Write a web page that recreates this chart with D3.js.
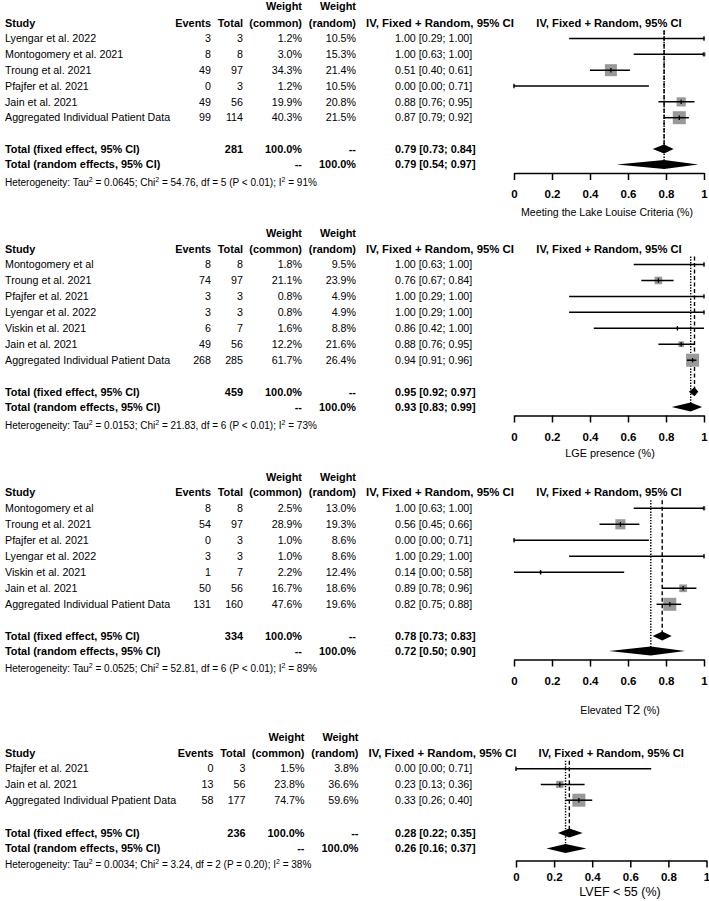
<!DOCTYPE html>
<html><head><meta charset="utf-8">
<script src="https://cdn.jsdelivr.net/npm/d3@7"></script>
<style>
body{margin:0;background:#fff}
svg{display:block}
text{font-family:"Liberation Sans",Arial,sans-serif;fill:#000}
</style>
</head><body>
<svg id="chart" width="709" height="901"></svg>
<script>
// ---------------- DATA ----------------
// Panel 1: Meeting the Lake Louise Criteria
const studiesLL = ["Lyengar et al. 2022","Montogomery et al. 2021","Troung et al. 2021","Pfajfer et al. 2021","Jain et al. 2021","Aggregated Individual Patient Data"];
const eventsLL = [3,8,49,0,49,99];
const totalLL = [3,8,97,3,56,114];
const wCommonLL = [1.2,3.0,34.3,1.2,19.9,40.3];
const wRandomLL = [10.5,15.3,21.4,10.5,20.8,21.5];
const estLL = [1.00,1.00,0.51,0.00,0.88,0.87];
const lowLL = [0.29,0.63,0.40,0.00,0.76,0.79];
const highLL = [1.00,1.00,0.61,0.71,0.95,0.92];
const fixedLL = [281,0.79,0.73,0.84];   // N, est, low, high
const randomLL = [0.79,0.54,0.97];
const hetLL = ["0.0645","54.76","5","P < 0.01","91%"];

// Panel 2: LGE presence
const studiesLGE = ["Montogomery et al","Troung et al. 2021","Pfajfer et al. 2021","Lyengar et al. 2022","Viskin et al. 2021","Jain et al. 2021","Aggregated Individual Patient Data"];
const eventsLGE = [8,74,3,3,6,49,268];
const totalLGE = [8,97,3,3,7,56,285];
const wCommonLGE = [1.8,21.1,0.8,0.8,1.6,12.2,61.7];
const wRandomLGE = [9.5,23.9,4.9,4.9,8.8,21.6,26.4];
const estLGE = [1.00,0.76,1.00,1.00,0.86,0.88,0.94];
const lowLGE = [0.63,0.67,0.29,0.29,0.42,0.76,0.91];
const highLGE = [1.00,0.84,1.00,1.00,1.00,0.95,0.96];
const fixedLGE = [459,0.95,0.92,0.97];
const randomLGE = [0.93,0.83,0.99];
const hetLGE = ["0.0153","21.83","6","P < 0.01","73%"];

// Panel 3: Elevated T2
const studiesT2 = ["Montogomery et al","Troung et al. 2021","Pfajfer et al. 2021","Lyengar et al. 2022","Viskin et al. 2021","Jain et al. 2021","Aggregated Individual Patient Data"];
const eventsT2 = [8,54,0,3,1,50,131];
const totalT2 = [8,97,3,3,7,56,160];
const wCommonT2 = [2.5,28.9,1.0,1.0,2.2,16.7,47.6];
const wRandomT2 = [13.0,19.3,8.6,8.6,12.4,18.6,19.6];
const estT2 = [1.00,0.56,0.00,1.00,0.14,0.89,0.82];
const lowT2 = [0.63,0.45,0.00,0.29,0.00,0.78,0.75];
const highT2 = [1.00,0.66,0.71,1.00,0.58,0.96,0.88];
const fixedT2 = [334,0.78,0.73,0.83];
const randomT2 = [0.72,0.50,0.90];
const hetT2 = ["0.0525","52.81","6","P < 0.01","89%"];

// Panel 4: LVEF < 55
const studiesLV = ["Pfajfer et al. 2021","Jain et al. 2021","Aggregated Individual Ppatient Data"];
const eventsLV = [0,13,58];
const totalLV = [3,56,177];
const wCommonLV = [1.5,23.8,74.7];
const wRandomLV = [3.8,36.6,59.6];
const estLV = [0.00,0.23,0.33];
const lowLV = [0.00,0.13,0.26];
const highLV = [0.71,0.36,0.40];
const fixedLV = [236,0.28,0.22,0.35];
const randomLV = [0.26,0.16,0.37];
const hetLV = ["0.0034","3.24","2","P = 0.20","38%"];

const tickValues = [0,0.2,0.4,0.6,0.8,1];
const tickLabels = ["0","0.2","0.4","0.6","0.8","1"];
const xLabels = [["Meeting the Lake Louise Criteria (%)"],["LGE presence (%)"],["Elevated ","T2"," (%)"],["LVEF < 55 (%)"]];

// ---------------- LAYOUT ----------------
const layouts = [
  {weightY:6.5, headY:23, row1:38.5, step:15.84, fixedY:149, randomY:164.5, hetY:182.5, axisY:173, tickY:194, titleY:212, titleX:607, titleSize:10.6, shift:0, range:[514,704]},
  {weightY:233.3, headY:249, row1:264.5, step:15.95, fixedY:391.7, randomY:406.9, hetY:425, axisY:415.5, tickY:437, titleY:452.7, titleX:610, titleSize:10.9, shift:0, range:[514,704]},
  {weightY:476.7, headY:492.3, row1:508.3, step:16, fixedY:636, randomY:651, hetY:668.3, axisY:659.5, tickY:680.5, titleY:710, titleX:620, titleSize:10.6, shift:0, range:[514,704]},
  {weightY:737, headY:753, row1:768.7, step:15.75, fixedY:833, randomY:848.5, hetY:864.5, axisY:860.5, tickY:877, titleY:891.7, titleX:620, titleSize:12.5, shift:2.5, range:[516,706.5]}
];

const panels = [
  {s:studiesLL,e:eventsLL,n:totalLL,wc:wCommonLL,wr:wRandomLL,est:estLL,lo:lowLL,hi:highLL,fx:fixedLL,rn:randomLL,het:hetLL},
  {s:studiesLGE,e:eventsLGE,n:totalLGE,wc:wCommonLGE,wr:wRandomLGE,est:estLGE,lo:lowLGE,hi:highLGE,fx:fixedLGE,rn:randomLGE,het:hetLGE},
  {s:studiesT2,e:eventsT2,n:totalT2,wc:wCommonT2,wr:wRandomT2,est:estT2,lo:lowT2,hi:highT2,fx:fixedT2,rn:randomT2,het:hetT2},
  {s:studiesLV,e:eventsLV,n:totalLV,wc:wCommonLV,wr:wRandomLV,est:estLV,lo:lowLV,hi:highLV,fx:fixedLV,rn:randomLV,het:hetLV}
];

// ---------------- DRAW ----------------
const svg = d3.select("#chart");
const FS = 10.7;
const FSB = 10.9;
const colX = {study:5, events:211, total:243, wc:302, wr:356, ci:395, ciHead:440};
const fmtCI = (e,l,h) => `${e.toFixed(2)} [${l.toFixed(2)}; ${h.toFixed(2)}]`;
const maxBox = 13;

panels.forEach((p, pi) => {
  const L = layouts[pi];
  const g = svg.append("g");
  const sh = L.shift;
  const x = d3.scaleLinear().domain([0,1]).range(L.range);
  const xMid = (L.range[0]+L.range[1])/2;

  function txt(str, xx, yy, anchor, bold, size) {
    return g.append("text").attr("x", xx).attr("y", yy).attr("dy","0.35em")
      .attr("text-anchor", anchor||"start")
      .attr("font-weight", bold ? "bold" : "normal")
      .attr("font-size", size || (bold ? FSB : FS)).text(str);
  }

  // headers
  txt("Weight", colX.wc+sh, L.weightY, "end", true);
  txt("Weight", colX.wr+sh, L.weightY, "end", true);
  txt("Study", colX.study, L.headY, "start", true);
  txt("Events", colX.events+sh, L.headY, "end", true);
  txt("Total", colX.total+sh, L.headY, "end", true);
  txt("(common)", colX.wc+sh, L.headY, "end", true);
  txt("(random)", colX.wr+sh, L.headY, "end", true);
  txt("IV, Fixed + Random, 95% CI", colX.ciHead+sh, L.headY, "middle", true, 11.4);
  txt("IV, Fixed + Random, 95% CI", xMid, L.headY, "middle", true, 11.2);

  const rowY = i => L.row1 + i*L.step;
  const maxW = d3.max(p.wc);

  // reference lines (common = dashed, random = dotted)
  g.append("line").attr("x1", x(p.fx[1])).attr("x2", x(p.fx[1]))
    .attr("y1", L.row1-8).attr("y2", L.fixedY)
    .attr("stroke","#000").attr("stroke-width",1.4).attr("stroke-dasharray","4,2.5");
  g.append("line").attr("x1", x(p.rn[0])).attr("x2", x(p.rn[0]))
    .attr("y1", L.row1-8).attr("y2", L.randomY+4)
    .attr("stroke","#000").attr("stroke-width",1.4).attr("stroke-dasharray","1.4,1.4");

  p.s.forEach((name, i) => {
    const y = rowY(i);
    txt(name, colX.study, y, "start", false);
    txt(String(p.e[i]), colX.events+sh, y, "end");
    txt(String(p.n[i]), colX.total+sh, y, "end");
    txt(p.wc[i].toFixed(1)+"%", colX.wc+sh, y, "end");
    txt(p.wr[i].toFixed(1)+"%", colX.wr+sh, y, "end");
    txt(fmtCI(p.est[i], p.lo[i], p.hi[i]), colX.ci, y, "start");

    const side = maxBox*Math.sqrt(p.wc[i]/maxW);
    g.append("rect").attr("x", x(p.est[i])-side/2).attr("y", y-side/2)
      .attr("width", side).attr("height", side).attr("fill","#999");
    g.append("line").attr("x1", x(p.lo[i])).attr("x2", x(p.hi[i]))
      .attr("y1", y).attr("y2", y).attr("stroke","#000").attr("stroke-width",1.5);
    g.append("line").attr("x1", x(p.est[i])).attr("x2", x(p.est[i]))
      .attr("y1", y-2.2).attr("y2", y+2.2).attr("stroke","#000").attr("stroke-width",1.3);
  });

  // totals
  txt("Total (fixed effect, 95% CI)", colX.study, L.fixedY, "start", true);
  txt(String(p.fx[0]), colX.total+sh, L.fixedY, "end", true);
  txt("100.0%", colX.wc+sh, L.fixedY, "end", true);
  txt("--", colX.wr+sh, L.fixedY, "end", true);
  txt(fmtCI(p.fx[1], p.fx[2], p.fx[3]), colX.ci, L.fixedY, "start", true);

  txt("Total (random effects, 95% CI)", colX.study, L.randomY, "start", true);
  txt("--", colX.wc+sh, L.randomY, "end", true);
  txt("100.0%", colX.wr+sh, L.randomY, "end", true);
  txt(fmtCI(p.rn[0], p.rn[1], p.rn[2]), colX.ci, L.randomY, "start", true);

  const diamond = (e,l,h,y) => `M${x(l)},${y}L${x(e)},${y-4.5}L${x(h)},${y}L${x(e)},${y+4.5}Z`;
  g.append("path").attr("d", diamond(p.fx[1],p.fx[2],p.fx[3],L.fixedY)).attr("fill","#000");
  g.append("path").attr("d", diamond(p.rn[0],p.rn[1],p.rn[2],L.randomY)).attr("fill","#000");

  // heterogeneity
  const hs = 10;
  const ht = g.append("text").attr("x", colX.study).attr("y", L.hetY).attr("dy","0.35em").attr("font-size", hs);
  const parts = [["Heterogeneity: Tau",0],["2",1],[" = "+p.het[0]+"; Chi",0],["2",1],[" = "+p.het[1]+", df = "+p.het[2]+" ("+p.het[3]+"); I",0],["2",1],[" = "+p.het[4],0]];
  let up = false;
  parts.forEach(([t,sup]) => {
    const ts = ht.append("tspan").text(t);
    if (sup) { ts.attr("font-size", 7).attr("dy", -4); up = true; }
    else if (up) { ts.attr("dy", 4); up = false; }
  });

  // axis
  const axis = d3.axisBottom(x).tickValues(tickValues)
    .tickFormat((d,i) => tickLabels[i]).tickSize(7).tickSizeOuter(0).tickPadding(10);
  const ag = g.append("g").attr("transform", `translate(0,${L.axisY})`).call(axis);
  ag.select(".domain").attr("stroke","#000").attr("stroke-width",1.5);
  ag.selectAll(".tick line").attr("stroke","#000").attr("stroke-width",1.5);
  ag.selectAll(".tick text").attr("font-family",'"Liberation Sans",Arial,sans-serif')
    .attr("font-size",11.5).attr("font-weight","bold").attr("fill","#000")
    .attr("y", L.tickY - L.axisY).attr("dy","0.35em");

  // x label
  const xl = g.append("text").attr("x", L.titleX).attr("y", L.titleY).attr("dy","0.35em")
    .attr("text-anchor","middle").attr("font-size", L.titleSize);
  xLabels[pi].forEach((t, k) => {
    const ts = xl.append("tspan").text(t);
    if (pi === 2 && k === 1) ts.attr("font-size", 13.5);
  });
});
</script>
</body></html>
